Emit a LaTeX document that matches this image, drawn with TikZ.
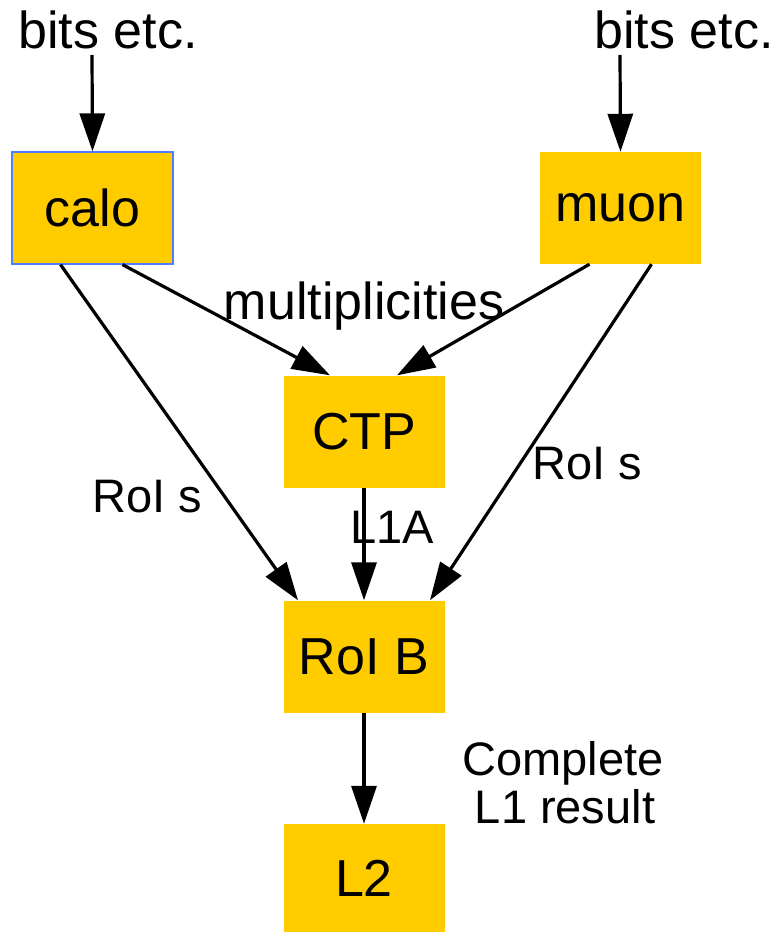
\documentclass[tikz,border=0pt]{standalone}
\usepackage{fontspec}
\setmainfont{Liberation Sans}
\usetikzlibrary{arrows.meta}
\definecolor{boxfill}{HTML}{FFCC00}
\definecolor{boxedge}{HTML}{4D7FFF}
\begin{document}
\begin{tikzpicture}[x=1pt,y=-1pt,
  unit/.style={fill=boxfill,minimum width=161pt,minimum height=112pt,inner sep=0pt,
    font=\fontsize{52}{62}\selectfont},
  lbl/.style={inner sep=0pt,anchor=base,font=\fontsize{52}{62}\selectfont},
  elbl/.style={inner sep=0pt,anchor=base,font=\fontsize{47}{56}\selectfont},
  flow/.style={line width=3.2pt,-{Triangle[length=38pt,width=25pt]}}]
\useasboundingbox (0,0) rectangle (782,933);

% units
\node[unit,draw=boxedge,line width=1.2pt] (calo) at (92.5,208) {calo};
\node[unit] (muon) at (620.5,208) {muon};
\node[unit] (ctp) at (364,431.5) {CTP};
\node[unit] (roib) at (364,656.5) {RoI B};
\node[unit,minimum height=108pt] (ltwo) at (364,878) {L2};

% inputs
\node[lbl] (inl) at (108,49) {bits etc.};
\node[lbl] (inr) at (684,49) {bits etc.};
\coordinate (inlend) at (92,55);
\coordinate (inrend) at (620,55);

% connectors
\draw[flow] (inlend) -- (calo.north);
\draw[flow] (inrend) -- (muon.north);
\draw[flow] ([xshift=-32pt]calo.south) -- ([xshift=-66pt]roib.north);
\draw[flow] ([xshift=30pt]calo.south) -- ([xshift=-34pt]ctp.north);
\draw[flow] ([xshift=-31pt]muon.south) -- ([xshift=33pt]ctp.north);
\draw[flow] ([xshift=31pt]muon.south) -- ([xshift=66pt]roib.north);
\draw[flow] (ctp.south) -- (roib.north);
\draw[flow] (roib.south) -- (ltwo.north);

% edge labels
\node[lbl] (mult) at (364,319) {multiplicities};
\node[elbl] (roisl) at (147,512) {RoI s};
\node[elbl] (roisr) at (587,479) {RoI s};
\node[elbl] (lia) at (392,543) {L1A};
\node[elbl] (res1) at (563,775) {Complete};
\node[elbl] (res2) at (565,823) {L1 result};
\end{tikzpicture}
\end{document}
